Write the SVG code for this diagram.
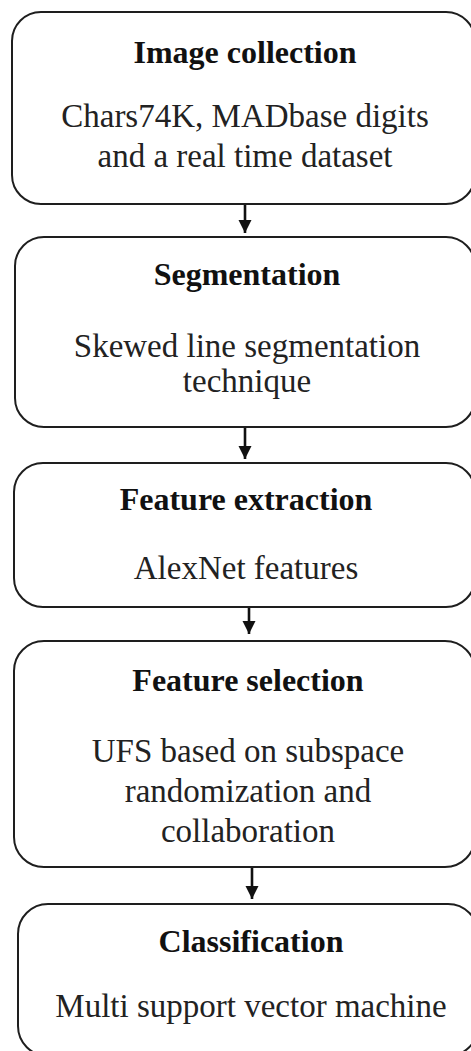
<svg xmlns="http://www.w3.org/2000/svg" width="471" height="1051" viewBox="0 0 471 1051">
<style>
.box{fill:#ffffff;stroke:#1e1e1e;stroke-width:2}
.title{font-family:"Liberation Serif","Times New Roman",serif;font-weight:bold;font-size:32px;fill:#111;text-anchor:middle}
.body{font-family:"Liberation Serif","Times New Roman",serif;font-size:33px;fill:#222;text-anchor:middle}
.conn{stroke:#111;stroke-width:2.6;fill:none}
</style>
<defs>
<marker id="ah" markerUnits="userSpaceOnUse" markerWidth="14" markerHeight="14" refX="13" refY="7" orient="auto">
<path d="M0,0.5 L13,7 L0,13.5 z" fill="#111"/>
</marker>
</defs>
<rect width="471" height="1051" fill="#ffffff"/>
<g id="connectors">
<line class="conn" x1="245" y1="204" x2="245" y2="233" marker-end="url(#ah)"/>
<line class="conn" x1="245" y1="427" x2="245" y2="459" marker-end="url(#ah)"/>
<line class="conn" x1="249" y1="607" x2="249" y2="634" marker-end="url(#ah)"/>
<line class="conn" x1="252" y1="867" x2="252" y2="899" marker-end="url(#ah)"/>
</g>
<g id="node-image-collection">
<rect class="box" x="12" y="12" width="463" height="192" rx="29" ry="29"/>
<text class="title" x="245" y="63">Image collection</text>
<text class="body" x="245" y="127">Chars74K, MADbase digits</text>
<text class="body" x="245" y="167">and a real time dataset</text>
</g>
<g id="node-segmentation">
<rect class="box" x="15" y="237" width="460" height="190" rx="29" ry="29"/>
<text class="title" x="247" y="285">Segmentation</text>
<text class="body" x="247" y="357">Skewed line segmentation</text>
<text class="body" x="247" y="392">technique</text>
</g>
<g id="node-feature-extraction">
<rect class="box" x="14" y="463" width="461" height="144" rx="29" ry="29"/>
<text class="title" x="246" y="510">Feature extraction</text>
<text class="body" x="246" y="579">AlexNet features</text>
</g>
<g id="node-feature-selection">
<rect class="box" x="14" y="641" width="461" height="226" rx="30" ry="30"/>
<text class="title" x="248" y="691">Feature selection</text>
<text class="body" x="248" y="762">UFS based on subspace</text>
<text class="body" x="248" y="802">randomization and</text>
<text class="body" x="248" y="842">collaboration</text>
</g>
<g id="node-classification">
<rect class="box" x="18" y="904" width="460" height="152" rx="30" ry="30"/>
<text class="title" x="251" y="952">Classification</text>
<text class="body" x="251" y="1017">Multi support vector machine</text>
</g>
</svg>
